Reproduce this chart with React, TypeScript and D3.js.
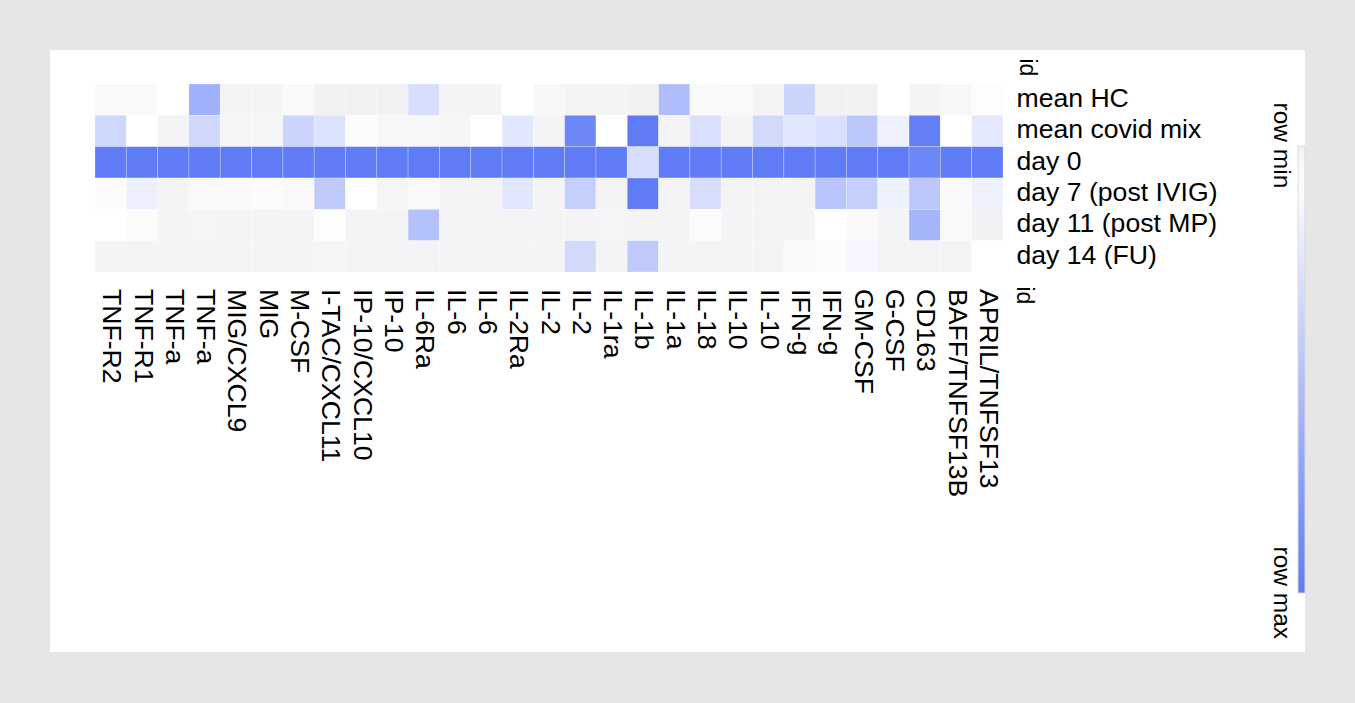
import React from 'react';
import * as d3 from 'd3';

// cytokines along the x axis (left to right)
const cytokines = [
  'TNF-R2', 'TNF-R1', 'TNF-a', 'TNF-a', 'MIG/CXCL9', 'MIG', 'M-CSF', 'I-TAC/CXCL11',
  'IP-10/CXCL10', 'IP-10', 'IL-6Ra', 'IL-6', 'IL-6', 'IL-2Ra', 'IL-2', 'IL-2', 'IL-1ra',
  'IL-1b', 'IL-1a', 'IL-18', 'IL-10', 'IL-10', 'IFN-g', 'IFN-g', 'GM-CSF', 'G-CSF',
  'CD163', 'BAFF/TNFSF13B', 'APRIL/TNFSF13',
];

const samples = ['mean HC', 'mean covid mix', 'day 0', 'day 7 (post IVIG)', 'day 11 (post MP)', 'day 14 (FU)'];

// scaled values per sample (0 = row min, 1 = row max)
const meanHC = [0.04, 0.04, 0.08, 0.63, 0.01, 0.01, 0.04, 0, 0, 0, 0.31, 0.01, 0.01, 0.08, 0.03, 0.01, 0.01, 0, 0.54, 0.05, 0.04, 0.01, 0.38, 0, 0, 0.08, 0.01, 0.03, 0.07];
const meanCovid = [0.36, 0.08, 0.01, 0.35, 0.02, 0.02, 0.38, 0.28, 0.06, 0.03, 0.03, 0.02, 0.08, 0.25, 0.01, 0.92, 0.08, 1, 0.01, 0.3, 0.01, 0.34, 0.25, 0.3, 0.47, 0.17, 0.98, 0.08, 0.24];
const day0 = [1, 1, 1, 1, 1, 1, 1, 1, 1, 1, 1, 1, 1, 1, 1, 1, 1, 0.31, 1, 1, 1, 1, 1, 1, 1, 1, 0.93, 1, 1];
const day7 = [0.06, 0.19, 0.01, 0.04, 0.05, 0.06, 0.04, 0.45, 0.08, 0.02, 0.04, 0.01, 0.01, 0.25, 0.01, 0.42, 0.01, 1, 0.01, 0.31, 0.01, 0.01, 0.01, 0.48, 0.42, 0.18, 0.47, 0.05, 0.17];
const day11 = [0.08, 0.06, 0.01, 0.02, 0.01, 0.01, 0.01, 0.07, 0.01, 0.01, 0.51, 0.01, 0.01, 0.01, 0.01, 0.01, 0.02, 0.01, 0.01, 0.06, 0.01, 0.01, 0.01, 0.08, 0.05, 0.01, 0.6, 0.04, 0];
const day14 = [0.01, 0.01, 0.01, 0.01, 0.01, 0.01, 0.01, 0.02, 0.01, 0.01, 0.01, 0.01, 0.01, 0.01, 0.01, 0.34, 0.01, 0.45, 0.01, 0.01, 0.01, 0.01, 0.04, 0.06, 0.14, 0.01, 0.01, 0.01, 0.08];

const rows = [meanHC, meanCovid, day0, day7, day11, day14];

const font = '"Liberation Sans", Arial, Helvetica, sans-serif';

const App: React.FC = () => {
  const x = d3
    .scaleBand<number>()
    .domain(d3.range(cytokines.length))
    .range([95, 1003]);
  const y = d3
    .scaleBand<number>()
    .domain(d3.range(samples.length))
    .range([84, 272]);
  const color = d3
    .scaleLinear<string>()
    .domain([0, 0.08, 1])
    .range(['#f2f2f5', '#ffffff', '#5f7cf6']);

  const legendTop = 146;
  const legendBottom = 593;
  const stops = d3.range(0, 1.0001, 0.05);

  return (
    <svg
      width={1355}
      height={703}
      style={{ position: 'absolute', left: 0, top: 0, background: '#e6e6e6' }}
      fontFamily={font}
    >
      <defs>
        <linearGradient id="legendGrad" x1="0" y1="0" x2="0" y2="1">
          {stops.map((s) => (
            <stop key={s} offset={s} stopColor={color(s)} />
          ))}
        </linearGradient>
      </defs>
      <rect x={50} y={50} width={1255} height={602} fill="#ffffff" />

      {rows.map((vals, r) =>
        vals.map((v, c) => (
          <rect
            key={`${r}-${c}`}
            x={x(c)}
            y={y(r)}
            width={x.bandwidth()}
            height={y.bandwidth()}
            fill={color(v)}
            stroke="rgba(255,255,255,0.3)"
            strokeWidth={0.8}
          />
        ))
      )}

      {/* row labels */}
      {samples.map((s, r) => (
        <text key={s} x={1016.5} y={(y(r) || 0) + y.bandwidth() / 2} dy="0.28em" fontSize={26.6}>
          {s}
        </text>
      ))}

      {/* column labels */}
      {cytokines.map((name, c) => {
        const cx = (x(c) || 0) + x.bandwidth() / 2;
        return (
          <text key={c} transform={`translate(${cx},289) rotate(90)`} dy="0.28em" fontSize={26.6}>
            {name}
          </text>
        );
      })}

      {/* axis titles */}
      <text transform="translate(1026.5,58.5) rotate(90)" dy="0.28em" fontSize={23}>
        id
      </text>
      <text transform="translate(1023.5,286.5) rotate(90)" dy="0.28em" fontSize={23}>
        id
      </text>

      {/* colour bar */}
      <rect
        x={1298}
        y={legendTop}
        width={7}
        height={legendBottom - legendTop}
        fill="url(#legendGrad)"
        stroke="#d9d9d9"
        strokeWidth={1}
      />
      <text transform="translate(1281,102.5) rotate(90)" dy="0.28em" fontSize={24.5}>
        row min
      </text>
      <text transform="translate(1281,546.5) rotate(90)" dy="0.28em" fontSize={24.5}>
        row max
      </text>
    </svg>
  );
};

export default App;
